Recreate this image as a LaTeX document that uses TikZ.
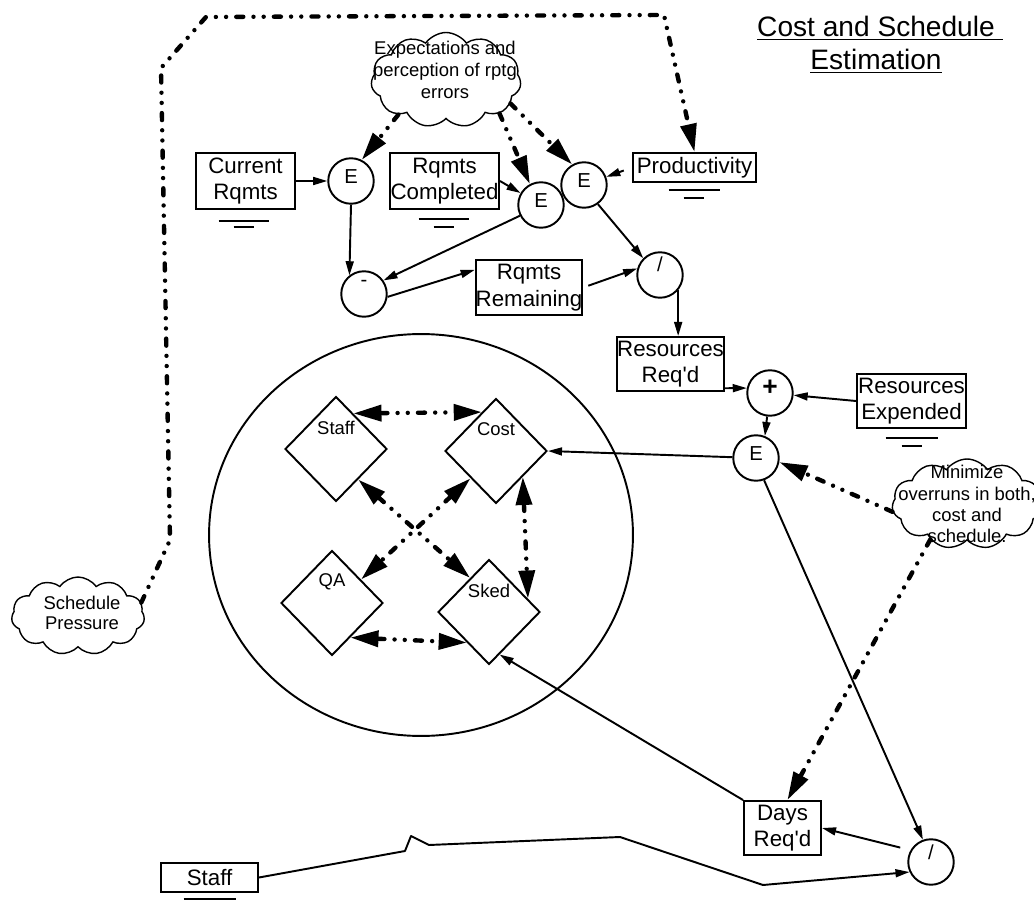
\documentclass[tikz,border=0pt]{standalone}
\usepackage{fontspec}
\setmainfont{Liberation Sans}
\usetikzlibrary{arrows.meta,shapes.geometric,shapes.symbols}

\newcommand\bxfont{\fontsize{12.7}{15}\selectfont}
\newcommand\cfont{\fontsize{10.5}{12}\selectfont}
\newcommand\opfont{\fontsize{11.5}{12}\selectfont}
\newcommand\tfont{\fontsize{16}{19}\selectfont}

\tikzset{
  box/.style={draw, line width=1.1pt, inner sep=0pt, align=center, font=\bxfont},
  circ/.style={draw, circle, line width=1.1pt, minimum size=0.91cm, inner sep=0pt},
  ctext/.style={font=\opfont, inner sep=0pt},
  dmd/.style={draw, diamond, line width=1.1pt, minimum width=2.04cm, minimum height=2.1cm, inner sep=0pt},
  dtext/.style={font=\cfont, inner sep=0pt, yshift=0.43cm},
  puff/.style={draw, cloud, cloud puffs=11, cloud puff arc=110, cloud ignores aspect, line width=0.8pt, inner sep=0pt},
  puffnote/.style={font=\cfont, align=center, inner sep=0pt},
  arr/.style={line width=1.1pt, line join=round, -{Triangle[length=8pt,width=4.5pt]}},
  infl/.style={line width=2.5pt, line cap=round, line join=round,
    dash pattern=on 4pt off 5.8pt on 0pt off 5.8pt on 0pt off 5.8pt,
    -{Triangle[length=16pt,width=9pt]}},
  infltwo/.style={infl, {Triangle[length=16pt,width=9pt]}-{Triangle[length=16pt,width=9pt]}},
  gnd/.style={line width=1.1pt},
}

\begin{document}
\begin{tikzpicture}[x=0.02cm, y=-0.02cm]
\useasboundingbox (0,0) rectangle (1034,905);

% title
\node[font=\tfont, align=center, inner sep=0pt] (title) at (876,45)
  {\underline{Cost and Schedule}\rlap{\underline{\ }}\\\underline{Estimation}};

% clouds
\node[puff, minimum width=3.0cm, minimum height=1.9cm] (c1) at (446,80) {};
\node[puffnote, font=\fontsize{10.5}{12.5}\selectfont] (c1t) at (445,70) {Expectations and\\perception of rptg\\errors};
\node[puff, minimum width=3.0cm, minimum height=1.8cm] (c2) at (967,504) {};
\node[puffnote] (c2t) at (967,504) {Minimize\\overruns in both,\\cost and\\schedule.};
\node[puff, minimum width=2.66cm, minimum height=1.56cm] (sp) at (78,616) {};
\node[puffnote, font=\fontsize{10.5}{11.5}\selectfont] (spt) at (82,613) {Schedule\\Pressure};

% requirement boxes and operators
\node[box, minimum width=1.98cm, minimum height=1.12cm] (cr) at (245.5,181) {Current\\Rqmts};
\node[circ, label={[ctext, yshift=0.08cm]center:E}] (e1) at (351,181) {};
\node[box, minimum width=2.18cm, minimum height=1.12cm] (rc) at (444.5,181) {Rqmts\\Completed};
\node[circ, label={[ctext, yshift=0.08cm]center:E}] (e2) at (541,205) {};
\node[circ, label={[ctext, yshift=0.08cm]center:E}] (e3) at (584,185) {};
\node[box, minimum width=2.46cm, minimum height=0.58cm] (prod) at (694.5,167.5) {Productivity};
\node[circ, label={[ctext, yshift=0.22cm]center:-}] (minus) at (364,294) {};
\node[box, minimum width=2.12cm, minimum height=1.10cm] (rr) at (529,287.5) {Rqmts\\Remaining};
\node[circ, label={[ctext, yshift=0.22cm]center:/}] (div1) at (660,275) {};
\node[box, minimum width=2.14cm, minimum height=1.08cm] (rreq) at (670.5,364) {Resources\\Req\textquotesingle d};
\node[circ, label={[ctext, font=\fontsize{15}{15}\selectfont\bfseries, yshift=0.1cm]center:+}] (plus) at (770,393) {};
\node[box, minimum width=2.18cm, minimum height=1.08cm] (rexp) at (911.5,401) {Resources\\Expended};
\node[circ, label={[ctext, yshift=0.08cm]center:E}] (e4) at (756,458) {};
\node[circ, label={[ctext, yshift=0.2cm]center:/}] (div2) at (931,862) {};
\node[box, minimum width=1.54cm, minimum height=1.08cm] (days) at (782.5,828) {Days\\Req\textquotesingle d};
\node[box, minimum width=1.94cm, minimum height=0.58cm] (staffbox) at (209.5,877.5) {Staff};

% level markers under the stock boxes
\draw[gnd] (cr.south) ++(-27,11) -- ++(50,0);
\draw[gnd] (cr.south) ++(-12,17) -- ++(20,0);
\draw[gnd] (rc.south) ++(-26,9) -- ++(50,0);
\draw[gnd] (rc.south) ++(-11,17) -- ++(20,0);
\draw[gnd] (prod.south) ++(-26,7) -- ++(51,0);
\draw[gnd] (prod.south) ++(-11,15) -- ++(20,0);
\draw[gnd] (rexp.south) ++(-26,9) -- ++(52,0);
\draw[gnd] (rexp.south) ++(-10,17) -- ++(20,0);
\draw[gnd] (staffbox.south) ++(-26,6) -- ++(52,0);

% trade-off group
\node[draw, ellipse, line width=1.1pt, minimum width=8.48cm, minimum height=8.04cm] (grp) at (421,535) {};
\node[dmd, label={[dtext]center:Staff}] (staffd) at (336,449) {};
\node[dmd, label={[dtext]center:Cost}] (cost) at (496,451) {};
\node[dmd, label={[dtext]center:QA}] (qa) at (332,603) {};
\node[dmd, label={[dtext]center:Sked}] (sked) at (489,612) {};

% solid flows
\draw[arr] (cr) -- (e1);
\draw[arr] (rc.east) -- (e2);
\draw[arr, shorten <=5pt] (prod.west) -- (e3);
\draw[arr] (e1.south) -- (minus.128);
\draw[arr] (e2.207) -- (minus.35);
\draw[arr] (minus.-7) -- (rr.162);
\draw[arr, shorten <=3pt] (rr.east) -- (div1.164);
\draw[arr] (e3.-54) -- (div1.135);
\draw[arr] (div1.-40) -- (div1.-40 |- rreq.north);
\draw[arr] (rreq.-24) -- (plus.168);
\draw[arr] (rexp.west) -- (plus);
\draw[arr] (plus.-97) -- (e4.68);
\draw[arr] (e4) -- (cost.east);
\draw[arr] (e4.-70) -- (div2.110);
\draw[arr, shorten <=6pt] (div2.150) -- (days.east);
\draw[arr] (days.north west) -- (sked.-76);
\draw[arr] (staffbox.east) -- (405,851) -- (411,836) -- (429,845) -- (620,837) -- (763,885) -- (div2.205);

% influences
\draw[infl] (sp.12) -- (170,540) -- (161,68) -- (206,17) -- (664,15) -- (prod.north);
\draw[infl] (c1.216) -- (e1.63);
\draw[infl] (c1.-32) -- (e2.118);
\draw[infl] (c1.-20) -- (e3.120);
\draw[infl] (c2.186) -- (e4.-10);
\draw[infl] (c2.224) -- (days.80);
\draw[infltwo] (staffd.64) -- (cost.110);
\draw[infltwo] (qa.-62) -- (sked.234);
\draw[infltwo] (cost.-44) -- (sked.19);
\draw[infltwo] (staffd.-54) -- (sked.119);
\draw[infltwo] (cost.227) -- (qa.39);
\end{tikzpicture}
\end{document}
